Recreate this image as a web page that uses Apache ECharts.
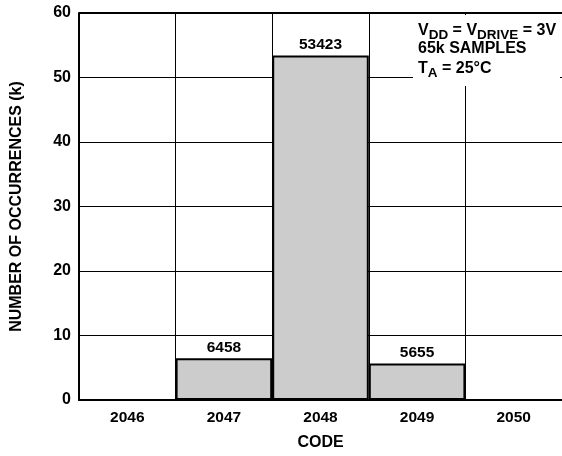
<!DOCTYPE html>
<html><head><meta charset="utf-8">
<script src="https://cdn.jsdelivr.net/npm/echarts@6/dist/echarts.min.js"></script>
<style>html,body{margin:0;padding:0;background:#fff}#c{width:562px;height:456px}</style>
</head><body><div id="c"></div>
<script>
const categories = ['2046','2047','2048','2049','2050'];
const counts = [0, 6458, 53423, 5655, 0];
const yTicks = [0, 10, 20, 30, 40, 50, 60];

const F = 'Liberation Sans, Arial, Helvetica, sans-serif';
const chart = echarts.init(document.getElementById('c'));
const main = {fontFamily: F, fontWeight: 'bold', fontSize: 16, lineHeight: 16, verticalAlign: 'middle', color: '#000'};
const sub = {fontFamily: F, fontWeight: 'bold', fontSize: 13.5, lineHeight: 16, height: 7, verticalAlign: 'bottom', color: '#000'};
function note(text, y) {
  return {type: 'text', x: 418, y: y, z: 11, style: {
    text: text, fill: '#000', verticalAlign: 'middle', align: 'left',
    font: 'bold 16px ' + F, rich: {m: main, s: sub}
  }};
}
chart.setOption({
  animation: false,
  grid: {left: 79, right: 0, top: 13, bottom: 56},
  xAxis: {
    type: 'category', data: categories, boundaryGap: true,
    name: 'CODE', nameLocation: 'middle', nameGap: 35,
    nameTextStyle: {fontFamily: F, fontWeight: 'bold', fontSize: 16, color: '#000'},
    axisLine: {lineStyle: {color: '#000', width: 2}},
    axisTick: {show: false},
    axisLabel: {fontFamily: F, fontWeight: 'bold', fontSize: 15.5, color: '#000', margin: 10},
    splitLine: {show: true, lineStyle: {color: '#000', width: 1}}
  },
  yAxis: {
    type: 'value', min: 0, max: 60, interval: 10,
    name: 'NUMBER OF OCCURRENCES (k)', nameLocation: 'middle', nameGap: 54,
    nameTextStyle: {fontFamily: F, fontWeight: 'bold', fontSize: 16, color: '#000'},
    axisLine: {show: true, lineStyle: {color: '#000', width: 2}},
    axisTick: {show: false},
    axisLabel: {fontFamily: F, fontWeight: 'bold', fontSize: 16, color: '#000', margin: 8,
      formatter: v => yTicks.includes(v) ? String(v) : ''},
    splitLine: {show: true, lineStyle: {color: '#000', width: 1}}
  },
  series: [{
    type: 'bar', barWidth: '100%',
    data: counts.map(v => v / 1000),
    itemStyle: {color: '#cccccc', borderColor: '#000', borderWidth: 2},
    label: {show: true, position: 'top', distance: 3, fontFamily: F, fontWeight: 'bold', fontSize: 15.5, color: '#000',
      formatter: p => p.value > 0 ? String(counts[p.dataIndex]) : ''},
    z: 3
  }],
  graphic: [
    {type: 'line', shape: {x1: 79, y1: 13, x2: 562, y2: 13}, style: {stroke: '#000', lineWidth: 2}, z: 10},
    {type: 'rect', shape: {x: 413, y: 15, width: 147, height: 71}, style: {fill: '#fff'}, z: 10},
    note('{m|V}{s|DD}{m| = V}{s|DRIVE}{m| = 3V}', 31),
    note('{m|65k SAMPLES}', 48.5),
    note('{m|T}{s|A}{m| = 25°C}', 68.5)
  ]
});
</script></body></html>
